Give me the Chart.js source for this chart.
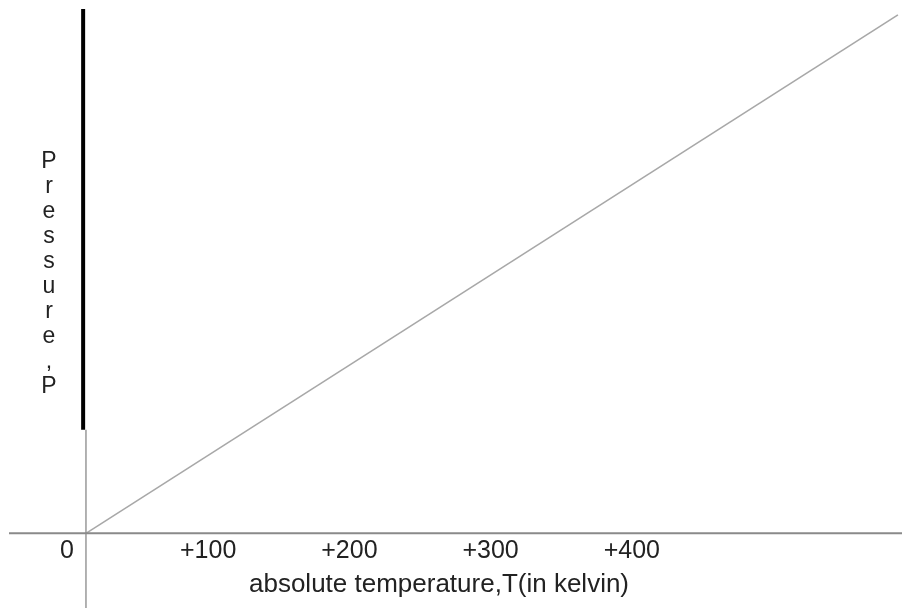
<!DOCTYPE html>
<html><head><meta charset="utf-8">
<script src="https://cdn.jsdelivr.net/npm/chart.js@4.4.0/dist/chart.umd.min.js"></script>
<style>html,body{margin:0;padding:0;background:#fff;overflow:hidden}#wrap{width:902px;height:608px}</style>
</head><body><div id="wrap"><canvas id="c" width="902" height="608"></canvas></div>
<script>
// ---- data ----
const temperatureK = [0, 575];
const pressure = [0, 9.72];
const tickValues = [0, 100, 200, 300, 400];
const tickLabels = ['0', '+100', '+200', '+300', '+400'];
const xTitle = 'absolute temperature,T(in kelvin)';
const yTitleLetters = ['P', 'r', 'e', 's', 's', 'u', 'r', 'e', ',', 'P'];
const xRange = [-54.5, 554.5];
const yRange = [-1.4, 10];
const xAxisExtent = [-54.5, 578];
const yAxisThin = [-1.4, 1.94];
const yAxisThick = [1.94, 9.83];
const thickAxisX = -2;

const FONT = '"Liberation Sans", Arial, sans-serif';

const stackedYTitle = {
  id: 'stackedYTitle',
  afterDraw(chart) {
    const ctx = chart.ctx;
    const x = chart.scales.x.getPixelForValue(0) - 37;
    const top = chart.chartArea.top;
    ctx.save();
    ctx.font = '23px ' + FONT;
    ctx.fillStyle = '#222';
    ctx.textAlign = 'center';
    ctx.textBaseline = 'alphabetic';
    yTitleLetters.forEach((ch, i) => ctx.fillText(ch, x, top + 168 + i * 25));
    ctx.restore();
  }
};

const pts = (xs, ys) => xs.map((v, i) => ({x: v, y: ys[i]}));

new Chart(document.getElementById('c'), {
  type: 'scatter',
  data: {
    datasets: [
      {data: pts(xAxisExtent, [0, 0]), borderColor: '#8a8a8a', borderWidth: 2},
      {data: pts([0, 0], yAxisThin), borderColor: '#999', borderWidth: 1.5},
      {data: pts(temperatureK, pressure), borderColor: '#a8a8a8', borderWidth: 1.6},
      {data: pts([thickAxisX, thickAxisX], yAxisThick), borderColor: '#000', borderWidth: 4}
    ].map(d => Object.assign(d, {showLine: true, pointRadius: 0, clip: false, fill: false}))
  },
  options: {
    responsive: false,
    animation: false,
    events: [],
    layout: {padding: {left: 9, right: 33, top: 0, bottom: 0}},
    plugins: {legend: {display: false}, tooltip: {enabled: false}},
    scales: {
      x: {
        type: 'linear', min: xRange[0], max: xRange[1], position: {y: 0},
        grid: {display: false, drawTicks: false}, border: {display: false},
        afterBuildTicks: s => { s.ticks = tickValues.map(v => ({value: v})); },
        ticks: {
          autoSkip: false, maxRotation: 0, labelOffset: -19, padding: 3,
          color: '#222', font: {family: FONT, size: 25},
          callback: (v, i) => tickLabels[i]
        },
        title: {display: true, text: xTitle, color: '#222', font: {family: FONT, size: 26}, padding: {top: 0, bottom: 0}}
      },
      y: {type: 'linear', min: yRange[0], max: yRange[1], display: false}
    }
  },
  plugins: [stackedYTitle]
});
</script>
</body></html>
